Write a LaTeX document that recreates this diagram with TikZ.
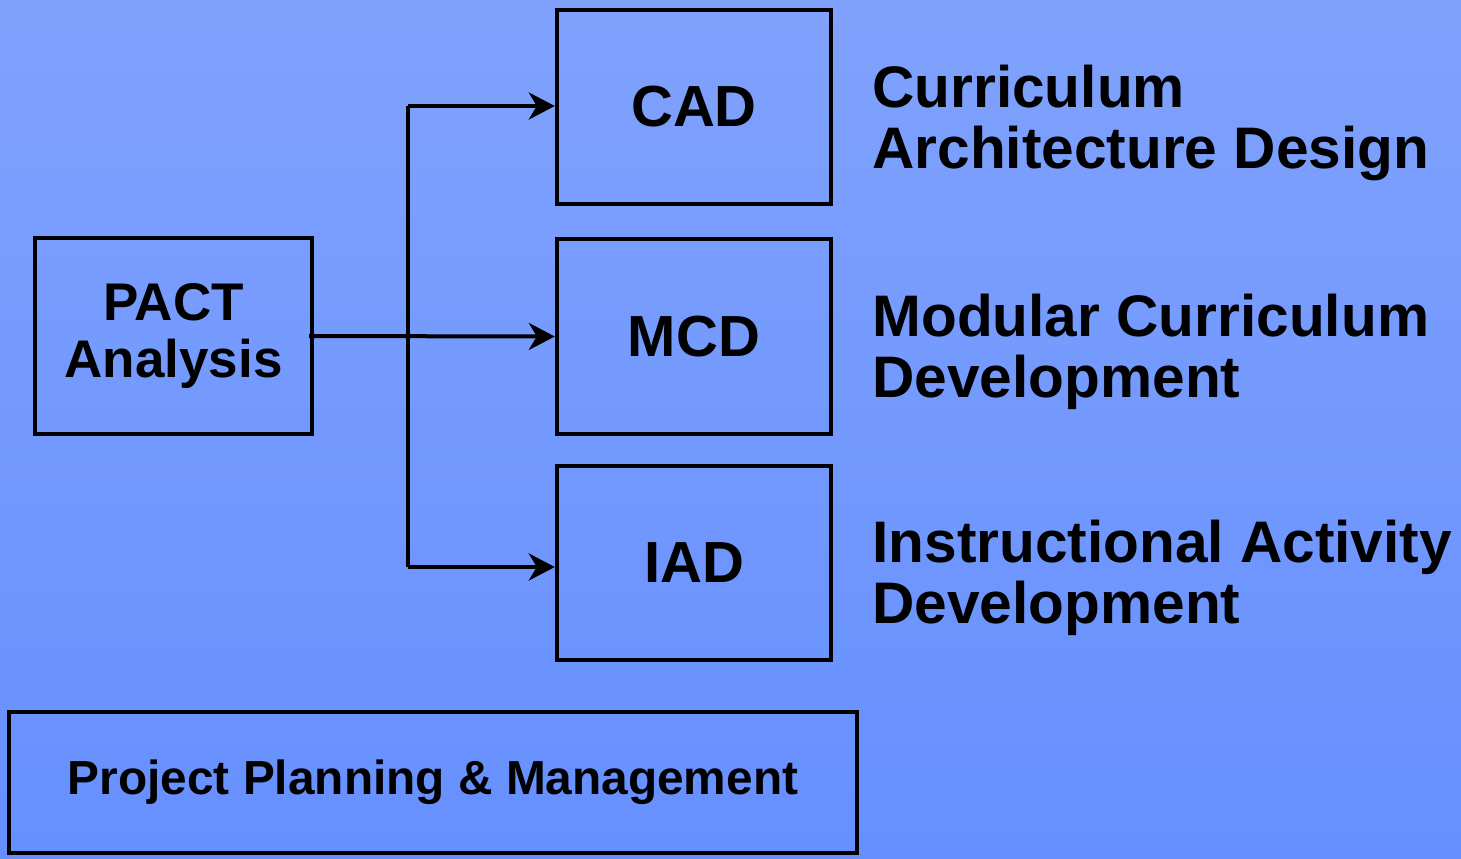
\documentclass[tikz,border=0pt]{standalone}
\usepackage{fontspec}
\setmainfont{Liberation Sans}
\usetikzlibrary{arrows.meta}
\definecolor{bgtop}{RGB}{128,162,253}
\definecolor{bgbot}{RGB}{102,144,255}
\tikzset{
  box/.style={draw=black, line width=2.2pt, rectangle, inner sep=0pt, align=center},
  sidelabel/.style={anchor=base west, align=left, inner sep=0pt,
    font=\fontsize{29.3}{30.5}\selectfont\bfseries},
  conn/.style={line width=2pt},
  arr/.style={conn, -{Stealth[length=13pt, width=13.5pt, inset=4pt]}}
}
\begin{document}
\begin{tikzpicture}[x=0.5pt, y=-0.5pt]
\shade[top color=bgtop, bottom color=bgbot] (0,0) rectangle (1461,858);
\useasboundingbox (0,0) rectangle (1461,858);

\node[box, minimum width=137pt, minimum height=97pt,
  font=\fontsize{29}{29}\selectfont\bfseries] (cad) at (694,107) {CAD};
\node[box, minimum width=137pt, minimum height=97.5pt,
  font=\fontsize{29}{29}\selectfont\bfseries] (mcd) at (694,336.5) {MCD};
\node[box, minimum width=137pt, minimum height=97pt,
  font=\fontsize{29}{29}\selectfont\bfseries] (iad) at (694,563) {IAD};
\node[box, minimum width=138.5pt, minimum height=98pt,
  font=\fontsize{26.5}{28.5}\selectfont\bfseries] (pact) at (173.5,336) {PACT\\Analysis};
\node[box, minimum width=424pt, minimum height=70.5pt,
  font=\fontsize{23.9}{24}\selectfont\bfseries] (ppm) at (433,782.5) {Project Planning \& Management};

\node[sidelabel] (cadt) at (872,168) {Curriculum\\Architecture Design};
\node[sidelabel] (mcdt) at (872,397) {Modular Curriculum\\Development};
\node[sidelabel] (iadt) at (872,623) {Instructional Activity\\Development};

\coordinate (jtop) at (408,106);
\coordinate (jbot) at (408,567);
\draw[conn] (jtop) -- (jbot);
\draw[arr] (jtop) -- (jtop -| cad.west);
\draw[arr] (jbot) -- (jbot -| iad.west);
\draw[arr] ([xshift=-2.5pt]pact.east) -- (mcd.west);
\end{tikzpicture}
\end{document}
